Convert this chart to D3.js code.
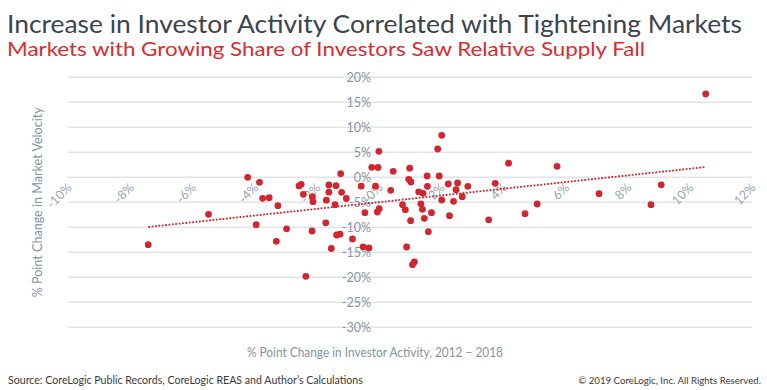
<!DOCTYPE html>
<html><head><meta charset="utf-8">
<script src="https://cdn.jsdelivr.net/npm/d3@7"></script>
<style>
html,body{margin:0;padding:0;background:#fff;}
svg{display:block;}
</style></head>
<body>
<svg id="chart" width="767" height="390"></svg>
<script>
// Data (percentage points)
const investorChange = [-7.42,-5.48,-4.22,-3.84,-3.74,-3.53,-3.25,-3.95,-2.97,-3.30,-2.35,-2.57,-2.50,-2.43,-2.14,-2.12,-2.15,-1.71,-1.61,-1.61,-1.69,-1.41,-1.38,-1.23,-1.20,-1.05,-1.36,-1.25,-1.53,-0.85,-0.57,-0.23,-0.03,-0.11,-0.45,-0.05,0.01,-0.51,-0.32,0.00,0.46,0.38,0.99,0.96,1.03,1.55,1.94,1.56,2.02,1.89,2.23,2.53,2.48,2.86,1.28,1.42,2.02,2.40,2.68,0.76,0.85,1.35,1.40,1.69,1.46,1.02,2.27,1.59,0.89,1.14,1.08,3.74,4.17,3.53,4.70,5.09,5.73,7.08,8.75,9.08,10.51];
const velocityChange = [-13.48,-7.40,0.00,-1.00,-4.20,-4.08,-5.68,-9.48,-10.30,-12.80,-19.80,-1.72,-1.40,-3.40,-3.88,-4.88,-10.74,-9.10,-1.54,-2.98,-4.58,-5.48,-1.68,0.72,-3.00,-4.24,-11.54,-11.38,-14.24,-12.34,-1.78,2.00,1.96,-1.78,-7.08,-6.94,-6.28,-13.90,-14.14,5.20,1.20,-2.60,1.82,-0.40,-0.94,0.26,0.26,-1.80,8.40,5.66,-1.34,-1.14,-2.48,-1.80,-2.90,-3.20,-4.54,-4.80,-3.88,-5.48,-6.50,-5.30,-6.40,-7.08,-8.20,-8.68,-7.68,-10.88,-13.94,-16.94,-17.48,-1.20,2.82,-8.50,-7.28,-5.34,2.20,-3.28,-5.48,-1.50,16.66];
const trendX = [-7.42, 10.51];
const trendY = [-9.94, 2.06];
const xTicks = [-10,-8,-6,-4,-2,0,2,4,6,8,10,12];
const yTicks = [-30,-25,-20,-15,-10,-5,0,5,10,15,20];
const titleText = "Increase in Investor Activity Correlated with Tightening Markets";
const subtitleText = "Markets with Growing Share of Investors Saw Relative Supply Fall";
const xTitle = "% Point Change in Investor Activity, 2012 – 2018";
const yTitle = "% Point Change in Market Velocity";
const sourceText = "Source: CoreLogic Public Records, CoreLogic REAS and Author’s Calculations";
const copyText = "© 2019 CoreLogic, Inc. All Rights Reserved.";

const svg = d3.select("#chart");
const FONT = "Lato, 'Open Sans', sans-serif";
const x = d3.scaleLinear().domain([-10, 12]).range([68, 752]);
const y = d3.scaleLinear().domain([-30, 20]).range([327.3, 77.3]);
const axisColor = "#8593a5";

// gridlines
svg.append("g").selectAll("line").data(yTicks).join("line")
  .attr("x1", x(-10)).attr("x2", x(12))
  .attr("y1", d => y(d)).attr("y2", d => y(d))
  .attr("stroke", "#e1e4e9").attr("stroke-width", 1.5);

// y axis (crossing at x=0)
const yAxis = svg.append("g").attr("transform", `translate(${x(0)},0)`)
  .call(d3.axisLeft(y).tickValues(yTicks).tickFormat(d => d + "%").tickSize(0).tickPadding(8));
yAxis.select(".domain").remove();
yAxis.selectAll("text").attr("font-family", FONT).attr("font-size", 12.5).attr("fill", axisColor);

// x axis (crossing at y=0)
const xAxis = svg.append("g").attr("transform", `translate(0,${y(0)})`)
  .call(d3.axisBottom(x).tickValues(xTicks).tickFormat(d => d + "%").tickSize(0));
xAxis.select(".domain").remove();
xAxis.selectAll("text")
  .attr("font-family", FONT).attr("font-size", 12.5).attr("fill", "#9aa5b3")
  .attr("text-anchor", "end").attr("x", 1).attr("y", 8).attr("dy", "0.35em")
  .attr("transform", "rotate(-45,1,8)");

// trend line
svg.append("line")
  .attr("x1", x(trendX[0])).attr("y1", y(trendY[0]))
  .attr("x2", x(trendX[1])).attr("y2", y(trendY[1]))
  .attr("stroke", "#c8232b").attr("stroke-width", 1.8).attr("stroke-dasharray", "1.8,1.6");

// points
svg.append("g").selectAll("circle").data(investorChange.map((v, i) => [v, velocityChange[i]])).join("circle")
  .attr("cx", d => x(d[0])).attr("cy", d => y(d[1])).attr("r", 3.4)
  .attr("fill", "#d0262f");

// titles (stretch to the reference widths without growing height)
function stretch(sel, width) {
  sel.attr("textLength", width).attr("lengthAdjust", "spacingAndGlyphs");
}
function fit(sel, width) {
  const fs = +sel.attr("font-size");
  const w = sel.node().getComputedTextLength();
  sel.attr("font-size", fs * width / w);
}
const t1 = svg.append("text").text(titleText).attr("x", 7).attr("y", 33)
  .attr("font-family", FONT).attr("font-size", 25).attr("fill", "#3a4451");
stretch(t1, 735);
const t2 = svg.append("text").text(subtitleText).attr("x", 7).attr("y", 56)
  .attr("font-family", FONT).attr("font-size", 20).attr("fill", "#d92b30");
stretch(t2, 638);

const xt = svg.append("text").text(xTitle).attr("x", 247).attr("y", 357)
  .attr("font-family", FONT).attr("font-size", 13).attr("fill", axisColor);
stretch(xt, 256);
const yt = svg.append("text").text(yTitle).attr("text-anchor", "middle")
  .attr("transform", `translate(42,${(y(20)+y(-30))/2}) rotate(-90)`)
  .attr("font-family", FONT).attr("font-size", 13).attr("fill", axisColor);
stretch(yt, 190);

const s1 = svg.append("text").text(sourceText).attr("x", 8).attr("y", 384)
  .attr("font-family", FONT).attr("font-size", 10.5).attr("fill", "#3a3a3a");
fit(s1, 355);
const s2 = svg.append("text").text(copyText).attr("x", 761).attr("y", 384).attr("text-anchor", "end")
  .attr("font-family", FONT).attr("font-size", 10.5).attr("fill", "#3a3a3a");
fit(s2, 183);
</script>
</body></html>
